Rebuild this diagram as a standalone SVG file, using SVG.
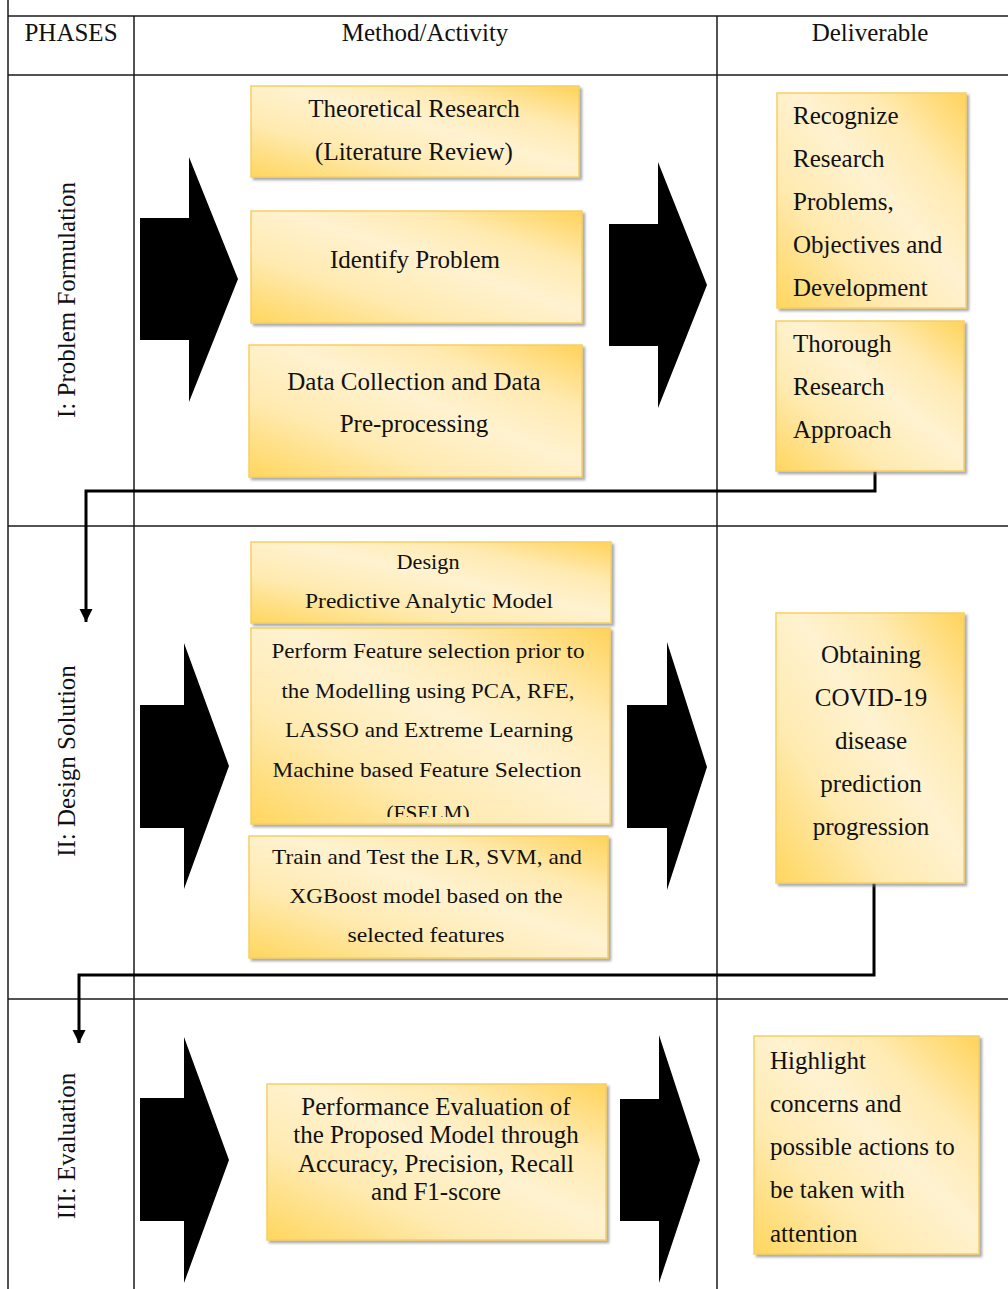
<svg xmlns="http://www.w3.org/2000/svg" width="1008" height="1289" viewBox="0 0 1008 1289">
<style>
  .t { font-family: "Liberation Serif", "Times New Roman", serif; font-size: 25px; fill: #111; }
  .hd { font-family: "Liberation Serif", "Times New Roman", serif; font-size: 25px; fill: #111; }
  .s { font-family: "Liberation Serif", "Times New Roman", serif; font-size: 22px; fill: #111; }
  .c { text-anchor: middle; }
  .box { fill: url(#gold); stroke: #F6CF63; stroke-width: 1.5; filter: url(#sh); }
  .grid { stroke: #1a1a1a; stroke-width: 1.5; fill: none; }
  .big { fill: #000; }
  .conn { stroke: #000; stroke-width: 3; fill: none; marker-end: url(#ah); }
</style>
<defs>
  <linearGradient id="gold" x1="0" y1="1" x2="1" y2="0">
    <stop offset="0" stop-color="#FFD65E"/>
    <stop offset="0.3" stop-color="#FFEAB0"/>
    <stop offset="0.55" stop-color="#FFF2D0"/>
    <stop offset="0.75" stop-color="#FFEAB2"/>
    <stop offset="1" stop-color="#FFD35A"/>
  </linearGradient>
  <filter id="sh" x="-5%" y="-5%" width="115%" height="115%">
    <feDropShadow dx="2.5" dy="2.5" stdDeviation="1" flood-color="#7f7f7f" flood-opacity="0.65"/>
  </filter>
  <marker id="ah" markerUnits="userSpaceOnUse" markerWidth="14" markerHeight="14" refX="13" refY="6.5" orient="auto">
    <path d="M0,0 L13,6.5 L0,13 z" fill="#000"/>
  </marker>
  <clipPath id="clipFS"><rect x="251" y="628" width="359" height="189"/></clipPath>
</defs>

<g id="table">
  <line class="grid" x1="8" y1="0" x2="8" y2="1289"/>
  <line class="grid" x1="134" y1="16" x2="134" y2="1289"/>
  <line class="grid" x1="717" y1="16" x2="717" y2="1289"/>
  <line class="grid" x1="8" y1="16" x2="1008" y2="16"/>
  <line class="grid" x1="8" y1="75" x2="1008" y2="75"/>
  <line class="grid" x1="8" y1="526" x2="1008" y2="526"/>
  <line class="grid" x1="8" y1="999" x2="1008" y2="999"/>
  <text class="hd c" x="71" y="41">PHASES</text>
  <text class="hd c" x="425" y="41">Method/Activity</text>
  <text class="hd c" x="870" y="41">Deliverable</text>
  <text class="t c" transform="translate(75,300) rotate(-90)">I: Problem Formulation</text>
  <text class="t c" transform="translate(75,761) rotate(-90)">II: Design Solution</text>
  <text class="t c" transform="translate(75,1146) rotate(-90)">III: Evaluation</text>
</g>

<g id="block-arrows">
  <polygon class="big" points="140,218 189,218 189,157 238,279 189,402 189,340 140,340"/>
  <polygon class="big" points="609,224 658,224 658,162 707,285 658,408 658,346 609,346"/>
  <polygon class="big" points="140,705 184,705 184,643 229,766 184,889 184,828 140,828"/>
  <polygon class="big" points="627,705 667,705 667,642 707,767 667,890 667,828 627,828"/>
  <polygon class="big" points="140,1098 184,1098 184,1037 229,1160 184,1283 184,1221 140,1221"/>
  <polygon class="big" points="620,1099 659,1099 659,1035 700,1160 659,1283 659,1221 620,1221"/>
</g>

<g id="connectors">
  <path class="conn" d="M875,471 V491 H86 V622"/>
  <path class="conn" d="M874,883 V975 H79 V1043"/>
</g>

<g id="n-theoretical">
  <rect class="box" x="251" y="86" width="328" height="91"/>
  <text class="t c" x="414" y="117">Theoretical Research</text>
  <text class="t c" x="414" y="160">(Literature Review)</text>
</g>
<g id="n-identify">
  <rect class="box" x="251" y="211" width="331" height="112"/>
  <text class="t c" x="415" y="268">Identify Problem</text>
</g>
<g id="n-datacollection">
  <rect class="box" x="249" y="345" width="333" height="132"/>
  <text class="t c" x="414" y="390">Data Collection and Data</text>
  <text class="t c" x="414" y="432">Pre-processing</text>
</g>
<g id="n-recognize">
  <rect class="box" x="777" y="93" width="189" height="215"/>
  <text class="t" x="793" y="124">Recognize</text>
  <text class="t" x="793" y="167">Research</text>
  <text class="t" x="793" y="210">Problems,</text>
  <text class="t" x="793" y="253">Objectives and</text>
  <text class="t" x="793" y="296">Development</text>
</g>
<g id="n-thorough">
  <rect class="box" x="776" y="321" width="188" height="150"/>
  <text class="t" x="793" y="352">Thorough</text>
  <text class="t" x="793" y="395">Research</text>
  <text class="t" x="793" y="438">Approach</text>
</g>

<g id="n-design">
  <rect class="box" x="251" y="542" width="360" height="81"/>
  <text class="s c" x="428" y="569" textLength="63" lengthAdjust="spacingAndGlyphs">Design</text>
  <text class="s c" x="429" y="608" textLength="248" lengthAdjust="spacingAndGlyphs">Predictive Analytic Model</text>
</g>
<g id="n-feature">
  <rect class="box" x="251" y="628" width="359" height="196"/>
  <g clip-path="url(#clipFS)">
    <text class="s c" x="428" y="658" textLength="313" lengthAdjust="spacingAndGlyphs">Perform Feature selection prior to</text>
    <text class="s c" x="428" y="698" textLength="293" lengthAdjust="spacingAndGlyphs">the Modelling using PCA, RFE,</text>
    <text class="s c" x="429" y="737" textLength="288" lengthAdjust="spacingAndGlyphs">LASSO and Extreme Learning</text>
    <text class="s c" x="427" y="777" textLength="309" lengthAdjust="spacingAndGlyphs">Machine based Feature Selection</text>
    <text class="s c" x="428" y="820" textLength="83" lengthAdjust="spacingAndGlyphs">(FSELM)</text>
  </g>
</g>
<g id="n-train">
  <rect class="box" x="249" y="836" width="359" height="122"/>
  <text class="s c" x="427" y="864" textLength="310" lengthAdjust="spacingAndGlyphs">Train and Test the LR, SVM, and</text>
  <text class="s c" x="426" y="903" textLength="273" lengthAdjust="spacingAndGlyphs">XGBoost model based on the</text>
  <text class="s c" x="426" y="942" textLength="157" lengthAdjust="spacingAndGlyphs">selected features</text>
</g>
<g id="n-obtaining">
  <rect class="box" x="776" y="613" width="188" height="270"/>
  <text class="t c" x="871" y="663">Obtaining</text>
  <text class="t c" x="871" y="706">COVID-19</text>
  <text class="t c" x="871" y="749">disease</text>
  <text class="t c" x="871" y="792">prediction</text>
  <text class="t c" x="871" y="835">progression</text>
</g>

<g id="n-performance">
  <rect class="box" x="267" y="1084" width="339" height="156"/>
  <text class="t c" x="436" y="1115">Performance Evaluation of</text>
  <text class="t c" x="436" y="1143">the Proposed Model through</text>
  <text class="t c" x="436" y="1172">Accuracy, Precision, Recall</text>
  <text class="t c" x="436" y="1200">and F1-score</text>
</g>
<g id="n-highlight">
  <rect class="box" x="754" y="1036" width="225" height="218"/>
  <text class="t" x="770" y="1069">Highlight</text>
  <text class="t" x="770" y="1112">concerns and</text>
  <text class="t" x="770" y="1155">possible actions to</text>
  <text class="t" x="770" y="1198">be taken with</text>
  <text class="t" x="770" y="1242">attention</text>
</g>
</svg>
